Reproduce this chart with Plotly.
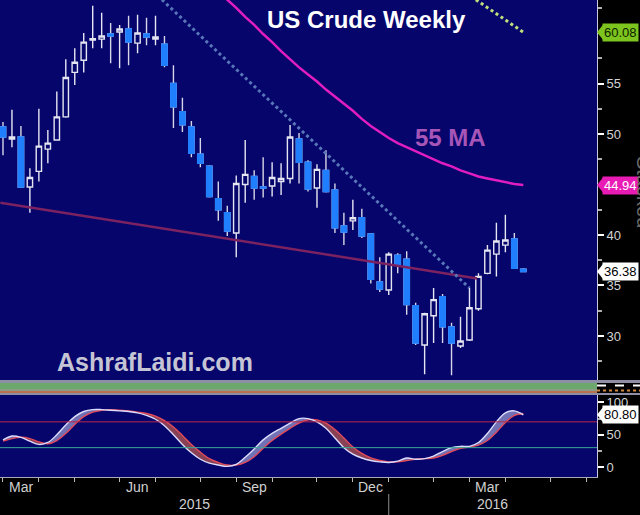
import plotly.graph_objects as go
import pandas as pd

# ---------------- data ----------------
week_dates = pd.date_range("2015-03-06", periods=59, freq="7D")

opens = [50.7, 49.5, 49.7, 44.75, 46.3, 48.5, 49.4, 51.7, 56.1, 57.3,
         59.3, 59.4, 59.9, 60.1, 60.4, 59.0, 59.9, 59.4, 58.9, 55.0,
         52.2, 50.7, 48.0, 46.8, 43.6, 42.2, 40.2, 45.0, 45.8, 44.75,
         44.85, 45.3, 45.6, 49.5, 47.2, 44.65, 46.4, 44.45, 40.9, 41.4,
         41.7, 40.1, 35.35, 34.55, 38.0, 37.6, 33.0, 29.1, 32.0, 33.9,
         30.9, 29.0, 29.6, 32.7, 36.2, 38.1, 39.0, 39.6, 36.6]
highs = [51.2, 52.4, 50.8, 46.6, 52.5, 50.4, 54.2, 57.4, 58.5, 60.0,
         62.7, 62.0, 61.0, 60.8, 61.7, 61.8, 61.5, 61.7, 59.7, 56.8,
         53.6, 51.3, 49.6, 46.9, 45.3, 42.9, 45.9, 49.4, 46.4, 47.7,
         47.2, 47.1, 50.9, 50.1, 47.4, 47.0, 48.4, 45.1, 42.2, 43.5,
         42.6, 40.2, 37.8, 38.3, 38.2, 38.4, 33.3, 32.3, 34.75, 34.15,
         31.3, 31.9, 34.75, 36.2, 39.0, 41.2, 42.0, 40.2, 36.7]
lows = [47.9, 48.7, 44.7, 42.2, 45.3, 47.1, 49.4, 51.6, 54.85, 56.1,
        58.5, 58.5, 57.0, 56.5, 56.8, 58.0, 58.8, 58.8, 56.6, 50.6,
        50.2, 47.7, 46.7, 43.7, 41.4, 39.9, 37.8, 43.2, 43.5, 43.7,
        43.8, 43.95, 45.1, 45.1, 44.3, 42.7, 44.2, 40.2, 39.0, 40.5,
        39.7, 35.2, 34.35, 34.05, 36.2, 32.1, 29.1, 26.2, 29.3, 29.3,
        26.1, 28.8, 29.5, 32.5, 36.1, 35.9, 38.3, 36.7, 36.3]
closes = [49.7, 49.7, 44.75, 45.7, 48.8, 49.1, 51.7, 55.6, 57.1, 59.1,
          59.45, 59.7, 59.7, 60.4, 59.1, 60.0, 59.6, 59.6, 56.8, 52.7,
          50.9, 48.1, 47.1, 43.8, 42.5, 40.4, 45.1, 46.0, 44.65, 44.65,
          45.7, 45.6, 49.7, 47.2, 44.55, 46.5, 44.3, 40.7, 40.3, 41.7,
          39.9, 35.6, 34.65, 38.1, 37.0, 33.1, 29.3, 32.2, 33.6, 30.9,
          29.3, 29.5, 32.8, 35.9, 38.5, 39.4, 39.5, 36.7, 36.38]

ma55 = [None] * 24 + [64.1, 63.3, 62.5, 61.6, 60.8, 59.9, 59.1, 58.2, 57.4, 56.6,
                      55.9, 55.2, 54.4, 53.7, 53.0, 52.3, 51.5, 50.8, 50.2, 49.6,
                      49.1, 48.7, 48.3, 47.9, 47.5, 47.1, 46.8, 46.4, 46.1, 45.8,
                      45.6, 45.4, 45.2, 45.05, 44.94]

stoch_k = [42, 48, 46, 40, 35, 38, 50, 65, 78, 86, 89, 89, 88, 87, 86, 84, 80, 74, 64, 50,
           35, 22, 12, 6, 3, 1, 4, 15, 28, 42, 52, 60, 68, 75, 75, 70, 60, 45, 30, 20,
           14, 10, 8, 7, 9, 14, 12, 13, 17, 24, 30, 32, 32, 38, 52, 70, 84, 87, 80.8]
stoch_d = [40, 44, 46, 44, 39, 36, 41, 52, 66, 78, 85, 88, 89, 88, 87, 85, 83, 79, 72, 62,
           49, 35, 23, 13, 7, 3, 3, 7, 16, 29, 41, 51, 60, 68, 73, 73, 68, 58, 45, 31,
           21, 14, 10, 8, 8, 10, 12, 13, 14, 18, 24, 29, 31, 34, 41, 54, 69, 80, 83]

# drawn trendlines (date, price)
trend_down_dates = ["2015-07-08", "2016-03-04"]
trend_down_prices = [63.3, 34.75]
trend_top_dates = ["2016-03-09", "2016-04-15"]
trend_top_prices = [63.3, 60.08]
trend_support_dates = ["2015-03-04", "2016-03-10"]
trend_support_prices = [43.2, 35.7]

month_ticks = ["2015-03-06", "2015-04-03", "2015-05-01", "2015-06-05", "2015-07-03",
               "2015-08-07", "2015-09-04", "2015-10-02", "2015-11-06", "2015-12-04",
               "2016-01-01", "2016-02-05", "2016-03-04", "2016-04-01", "2016-05-06",
               "2016-06-03"]
month_labels = ["Mar", "Jun", "Sep", "Dec", "Mar"]
month_label_dates = ["2015-03-20", "2015-06-19", "2015-09-18", "2015-12-18", "2016-03-18"]
year_labels = ["2015", "2016"]
year_sep_date = "2016-01-01"

price_ticks = [30, 35, 40, 45, 50, 55, 60]
price_ticktext = ["30", "35", "40", "", "50", "55", ""]
price_minor = [27.5, 32.5, 37.5, 42.5, 47.5, 52.5, 57.5, 62.5]
stoch_ticks = [0, 50, 100]
stoch_minor = [25, 75]
stoch_upper, stoch_lower = 70, 30

last_price = 36.38
last_ma = 44.94
top_line_value = 60.08
last_stoch = 80.80

# ---------------- geometry helpers (pixels -> paper) ----------------
PLOT_R = 597.0
PLOT_B = 477.0


def px(xp):
    return xp / PLOT_R


def py(yp):
    return (PLOT_B - yp) / PLOT_B


NAVY = "#05056c"
BLUE = "#1f7fff"

fig = go.Figure()

# trendlines
fig.add_trace(go.Scatter(x=trend_support_dates, y=trend_support_prices, mode="lines",
                         line=dict(color="#7c2260", width=2.5), hoverinfo="skip"))
fig.add_trace(go.Scatter(x=trend_down_dates, y=trend_down_prices, mode="lines",
                         line=dict(color="#5876b8", width=3, dash="dot"), hoverinfo="skip"))
fig.add_trace(go.Scatter(x=trend_top_dates, y=trend_top_prices, mode="lines",
                         line=dict(color="#bfe07a", width=3, dash="dot"), hoverinfo="skip"))
# 55 MA
fig.add_trace(go.Scatter(x=week_dates, y=ma55, mode="lines",
                         line=dict(color="#e01ec0", width=2.5), hoverinfo="skip"))

# candles (wicks + outlines)
fig.add_trace(go.Candlestick(
    x=week_dates, open=opens, high=highs, low=lows, close=closes,
    increasing=dict(line=dict(color="#e6e6f2", width=1.4), fillcolor=NAVY),
    decreasing=dict(line=dict(color="#d6d6e6", width=1.4), fillcolor=BLUE),
    whiskerwidth=0, hoverinfo="skip"))

# solid blue bodies over the down candles
dn = [i for i in range(len(opens)) if closes[i] < opens[i]]
fig.add_trace(go.Candlestick(
    x=[week_dates[i] for i in dn],
    open=[opens[i] for i in dn], high=[opens[i] for i in dn],
    low=[closes[i] for i in dn], close=[closes[i] for i in dn],
    increasing=dict(line=dict(color=BLUE, width=1.4), fillcolor=BLUE),
    decreasing=dict(line=dict(color=BLUE, width=1.4), fillcolor=BLUE),
    whiskerwidth=0, hoverinfo="skip"))

# stochastic panel
k_hi = [max(a, b) for a, b in zip(stoch_k, stoch_d)]
k_lo = [min(a, b) for a, b in zip(stoch_k, stoch_d)]
fig.add_trace(go.Scatter(x=week_dates, y=stoch_d, yaxis="y2", mode="lines",
                         line=dict(width=0, shape="spline"), hoverinfo="skip"))
fig.add_trace(go.Scatter(x=week_dates, y=k_hi, yaxis="y2", mode="lines", fill="tonexty",
                         fillcolor="rgba(140,140,200,0.8)", line=dict(width=0, shape="spline"),
                         hoverinfo="skip"))
fig.add_trace(go.Scatter(x=week_dates, y=stoch_d, yaxis="y2", mode="lines",
                         line=dict(width=0, shape="spline"), hoverinfo="skip"))
fig.add_trace(go.Scatter(x=week_dates, y=k_lo, yaxis="y2", mode="lines", fill="tonexty",
                         fillcolor="rgba(170,80,80,0.8)", line=dict(width=0, shape="spline"),
                         hoverinfo="skip"))
fig.add_trace(go.Scatter(x=week_dates, y=stoch_d, yaxis="y2", mode="lines",
                         line=dict(color="#e04a5a", width=1.4, shape="spline"), hoverinfo="skip"))
fig.add_trace(go.Scatter(x=week_dates, y=stoch_k, yaxis="y2", mode="lines",
                         line=dict(color="#dcdcff", width=1.4, shape="spline"), hoverinfo="skip"))

shapes = []
# separator band between panels
band = [(380, 383, "#8e8ea6"), (383, 389, "#6ca86c"), (389, 391, "#8a9c88"),
        (391, 393, "#b8724c"), (393, 395, "#8e8ea6")]
for y0, y1, c in band:
    shapes.append(dict(type="rect", xref="paper", yref="paper", x0=0, x1=1,
                       y0=py(y1), y1=py(y0), fillcolor=c, line=dict(width=0), layer="above"))
shapes.append(dict(type="rect", xref="paper", yref="paper", x0=1, x1=px(640),
                   y0=py(383), y1=py(380), fillcolor="#8e8ea6", line=dict(width=0)))
shapes.append(dict(type="rect", xref="paper", yref="paper", x0=1, x1=px(640),
                   y0=py(395), y1=py(393), fillcolor="#8e8ea6", line=dict(width=0)))
shapes.append(dict(type="line", xref="paper", yref="paper", x0=1, x1=px(640),
                   y0=py(385.5), y1=py(385.5), line=dict(color="white", width=2, dash="dash")))
shapes.append(dict(type="line", xref="paper", yref="paper", x0=1, x1=px(640),
                   y0=py(390.5), y1=py(390.5), line=dict(color="#d08a40", width=2, dash="dot")))
# stochastic reference levels
shapes.append(dict(type="line", xref="paper", yref="y2", x0=0, x1=1, y0=stoch_upper,
                   y1=stoch_upper, line=dict(color="#b8284a", width=1)))
shapes.append(dict(type="line", xref="paper", yref="y2", x0=0, x1=1, y0=stoch_lower,
                   y1=stoch_lower, line=dict(color="#3aa894", width=1)))
# year separator under the axis
shapes.append(dict(type="line", xref="x", yref="paper", x0=year_sep_date, x1=year_sep_date,
                   y0=py(494), y1=py(515), line=dict(color="#8c8c8c", width=1)))


# value flags on the right axis
def flag(value, yref, bg, fg, ppu):
    tip = 1.0
    base = px(603)
    h = 7.5 / ppu
    shapes.append(dict(type="path", xref="paper", yref=yref,
                       path=f"M {tip} {value} L {base} {value + h} L {base} {value - h} Z",
                       fillcolor=bg, line=dict(width=0)))
    return dict(text=f"{value:.2f}", xref="paper", yref=yref, x=px(602), y=value,
                xanchor="left", yanchor="middle", showarrow=False, bgcolor=bg,
                borderpad=1, font=dict(color=fg, size=13))


ppu_main = 10.1
ppu_stoch = 0.645
annotations = [
    flag(top_line_value, "y", "#7ec41e", "#0c2200", ppu_main),
    flag(last_ma, "y", "#e81cb4", "white", ppu_main),
    flag(last_price, "y", "white", "black", ppu_main),
    flag(last_stoch, "y2", "white", "black", ppu_stoch),
]

annotations += [
    dict(text="<b>US Crude Weekly</b>", xref="paper", yref="paper", x=px(366), y=py(20),
         xanchor="center", yanchor="middle", showarrow=False,
         font=dict(color="white", size=24, family="Liberation Sans, Arial")),
    dict(text="<b>55 MA</b>", xref="paper", yref="paper", x=px(450), y=py(137),
         xanchor="center", yanchor="middle", showarrow=False,
         font=dict(color="#a855b8", size=24, family="Liberation Sans, Arial")),
    dict(text="<b>AshrafLaidi.com</b>", xref="paper", yref="paper", x=px(155), y=py(362),
         xanchor="center", yanchor="middle", showarrow=False,
         font=dict(color="#c4c4d4", size=25, family="Liberation Sans, Arial")),
    dict(text="Stacked", xref="paper", yref="paper", x=px(644), y=py(192),
         xanchor="center", yanchor="middle", showarrow=False, textangle=90,
         font=dict(color="#6a6a6a", size=20)),
]
for lab, d in zip(month_labels, month_label_dates):
    annotations.append(dict(text=lab, xref="x", yref="paper", x=d, y=py(487),
                            xanchor="center", yanchor="middle", showarrow=False,
                            font=dict(color="#d0d0d0", size=14)))
for lab, xp in zip(year_labels, [194, 493]):
    annotations.append(dict(text=lab, xref="paper", yref="paper", x=px(xp), y=py(504),
                            xanchor="center", yanchor="middle", showarrow=False,
                            font=dict(color="#d0d0d0", size=14)))

fig.update_layout(
    width=640, height=515,
    margin=dict(l=0, r=43, t=0, b=38),
    paper_bgcolor="black", plot_bgcolor=NAVY,
    showlegend=False,
    boxgap=0.15,
    font=dict(family="Liberation Sans, Arial, sans-serif", color="#d0d0d0", size=13),
    xaxis=dict(type="date", range=["2015-03-03 16:00", "2016-06-11 12:00"], anchor="y2",
               rangeslider=dict(visible=False), showgrid=False, zeroline=False,
               tickvals=month_ticks, ticks="outside", ticklen=4, tickcolor="#b8b8b8",
               showticklabels=False, showline=True, linecolor="#a8a8b8", linewidth=1),
    yaxis=dict(domain=[py(380), 1], range=[25.64, 63.27], side="right", anchor="x",
               showgrid=False, zeroline=False, tickvals=price_ticks, ticktext=price_ticktext,
               ticks="outside", ticklen=6, tickwidth=2, tickcolor="white",
               tickfont=dict(color="#d4d4d4", size=13),
               showline=True, linecolor="#c8c8e0", linewidth=1,
               minor=dict(tickvals=price_minor, ticks="outside", ticklen=4, tickcolor="#b0b0b0")),
    yaxis2=dict(domain=[0, py(395)], range=[-15.5, 111.6], side="right", anchor="x",
                showgrid=False, zeroline=False, tickvals=stoch_ticks,
                ticks="outside", ticklen=6, tickwidth=2, tickcolor="white",
                tickfont=dict(color="#d4d4d4", size=13),
                showline=True, linecolor="#c8c8e0", linewidth=1,
                minor=dict(tickvals=stoch_minor, ticks="outside", ticklen=4, tickcolor="#b0b0b0")),
    shapes=shapes,
    annotations=annotations,
)

fig.write_html("out.html", config={"displayModeBar": False},
               post_script="document.body.style.margin='0';document.body.style.padding='0';"
                           "document.body.style.overflow='hidden';")
